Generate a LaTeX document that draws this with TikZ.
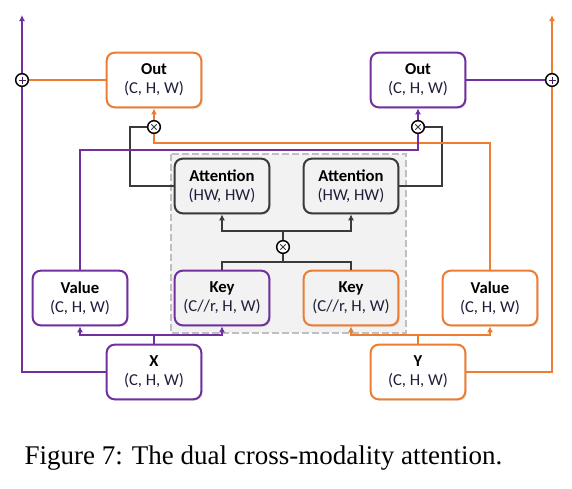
\documentclass[tikz,border=0pt]{standalone}
\usepackage{fontspec}
\setmainfont{Liberation Serif}
\newfontfamily\boxfont{Carlito}
\usetikzlibrary{arrows.meta,shadows,calc}
\definecolor{cor}{HTML}{ED7D31}
\definecolor{cpu}{HTML}{7030A0}
\definecolor{cgr}{HTML}{3A3A3A}
\definecolor{cbg}{HTML}{F2F2F2}
\definecolor{cdash}{HTML}{BFBFBF}
\definecolor{ctxt}{HTML}{1F1F3A}
\tikzset{
  blk/.style={draw, rounded corners=6pt, line width=1.5pt, fill=white,
    minimum width=71pt, minimum height=41pt, align=center, inner sep=1pt,
    font=\boxfont\fontsize{12.5}{14.5}\selectfont, text=ctxt,
    drop shadow={opacity=0.25, shadow xshift=1pt, shadow yshift=-1pt}},
  oblk/.style={blk, draw=cor},
  pblk/.style={blk, draw=cpu},
  gblk/.style={blk, draw=cgr, fill=cbg},
  opcirc/.style={circle, draw=black, line width=1.1pt, fill=white, minimum size=9.5pt, inner sep=0pt},
  conn/.style={line width=1.5pt},
  arr/.style={conn, -{Latex[length=4.5pt,width=4.5pt]}},
}
\newcommand{\lbl}[2]{\textbf{\color{black}#1}\\#2}
\begin{document}
\begin{tikzpicture}[x=0.75pt,y=-0.75pt]
\useasboundingbox (0,0) rectangle (572,489);
% gray region
\draw[cdash, fill=cbg, line width=1.8pt, dash pattern=on 5pt off 2.5pt] (171,154) rectangle (406,333);
% nodes
\node[oblk] (outL) at (154,80) {\lbl{Out}{(C, H, W)}};
\node[pblk] (outR) at (418,80) {\lbl{Out}{(C, H, W)}};
\node[gblk] (attL) at (222,186) {\lbl{Attention}{(HW, HW)}};
\node[gblk] (attR) at (351,186) {\lbl{Attention}{(HW, HW)}};
\node[pblk, fill=cbg] (keyL) at (222,298) {\lbl{Key}{(C//r, H, W)}};
\node[oblk, fill=cbg] (keyR) at (351,298) {\lbl{Key}{(C//r, H, W)}};
\node[pblk] (valL) at (80,298) {\lbl{Value}{(C, H, W)}};
\node[oblk] (valR) at (490,298) {\lbl{Value}{(C, H, W)}};
\node[pblk] (X) at (154,372) {\lbl{X}{(C, H, W)}};
\node[oblk] (Y) at (418,372) {\lbl{Y}{(C, H, W)}};
% helper coordinates
\coordinate (topL) at (22,15);
\coordinate (topR) at (552,15);
\coordinate (kj) at (283,262);
\coordinate (aj) at (283,231);
\coordinate (xj) at (154,335);
\coordinate (yj) at (418,335);
\coordinate (pL) at (22,80);
\coordinate (pR) at (552,80);
\coordinate (tL) at (154,127);
\coordinate (tR) at (418,127);
\coordinate (tC) at (283,247);
% gray connectors
\draw[conn, cgr] (attL.west) -- ++(-44,0) |- (tL);
\draw[conn, cgr] (attR.east) -- ++(43,0) |- (tR);
\draw[conn, cgr] (keyL.north) |- (kj) -| (keyR.north);
\draw[conn, cgr] (kj) -- (tC) -- (aj);
\draw[arr, cgr] (aj) -| (attL.south);
\draw[arr, cgr] (aj) -| (attR.south);
% orange connectors
\draw[conn, cor] (outL.west) -- (pL);
\draw[arr, cor] (tL) -- (outL.south);
\draw[conn, cor] (valR.north) |- ($(tL)+(0,16)$) -- (tL);
\draw[arr, cor] (pR) -- (topR);
\draw[conn, cor] (Y.east) -| (pR);
\draw[conn, cor] (Y.north) -- (yj);
\draw[arr, cor] (yj) -| (keyR.south);
\draw[arr, cor] (yj) -| (valR.south);
% purple connectors
\draw[arr, cpu] (pL) -- (topL);
\draw[conn, cpu] (X.west) -| (pL);
\draw[conn, cpu] (outR.east) -- (pR);
\draw[arr, cpu] (tR) -- (outR.south);
\draw[conn, cpu] (valL.north) |- ($(tR)+(0,23)$) -- (tR);
\draw[conn, cpu] (X.north) -- (xj);
\draw[arr, cpu] (xj) -| (valL.south);
\draw[arr, cpu] (xj) -| (keyL.south);
% operators on top
\node[opcirc] (plusL) at (pL) {};
\node[opcirc] (plusR) at (pR) {};
\node[opcirc] (timesL) at (tL) {};
\node[opcirc] (timesR) at (tR) {};
\node[opcirc] (timesC) at (tC) {};
\foreach \n in {plusL,plusR}{
  \draw[cpu!60!black, line width=0.6pt] ($(\n)+(-3.5,0)$) -- ($(\n)+(3.5,0)$);
  \draw[cpu!60!black, line width=0.6pt] ($(\n)+(0,-3.5)$) -- ($(\n)+(0,3.5)$);
}
\foreach \n in {timesL,timesR,timesC}{
  \draw[cgr, line width=0.6pt] ($(\n)+(-2.7,-2.7)$) -- ($(\n)+(2.7,2.7)$);
  \draw[cgr, line width=0.6pt] ($(\n)+(-2.7,2.7)$) -- ($(\n)+(2.7,-2.7)$);
}
% caption
\node[anchor=base, font=\fontsize{20.25}{24}\selectfont, inner sep=0pt] (cap) at (263.5,464) {Figure 7: The dual cross-modality attention.};
\end{tikzpicture}
\end{document}
